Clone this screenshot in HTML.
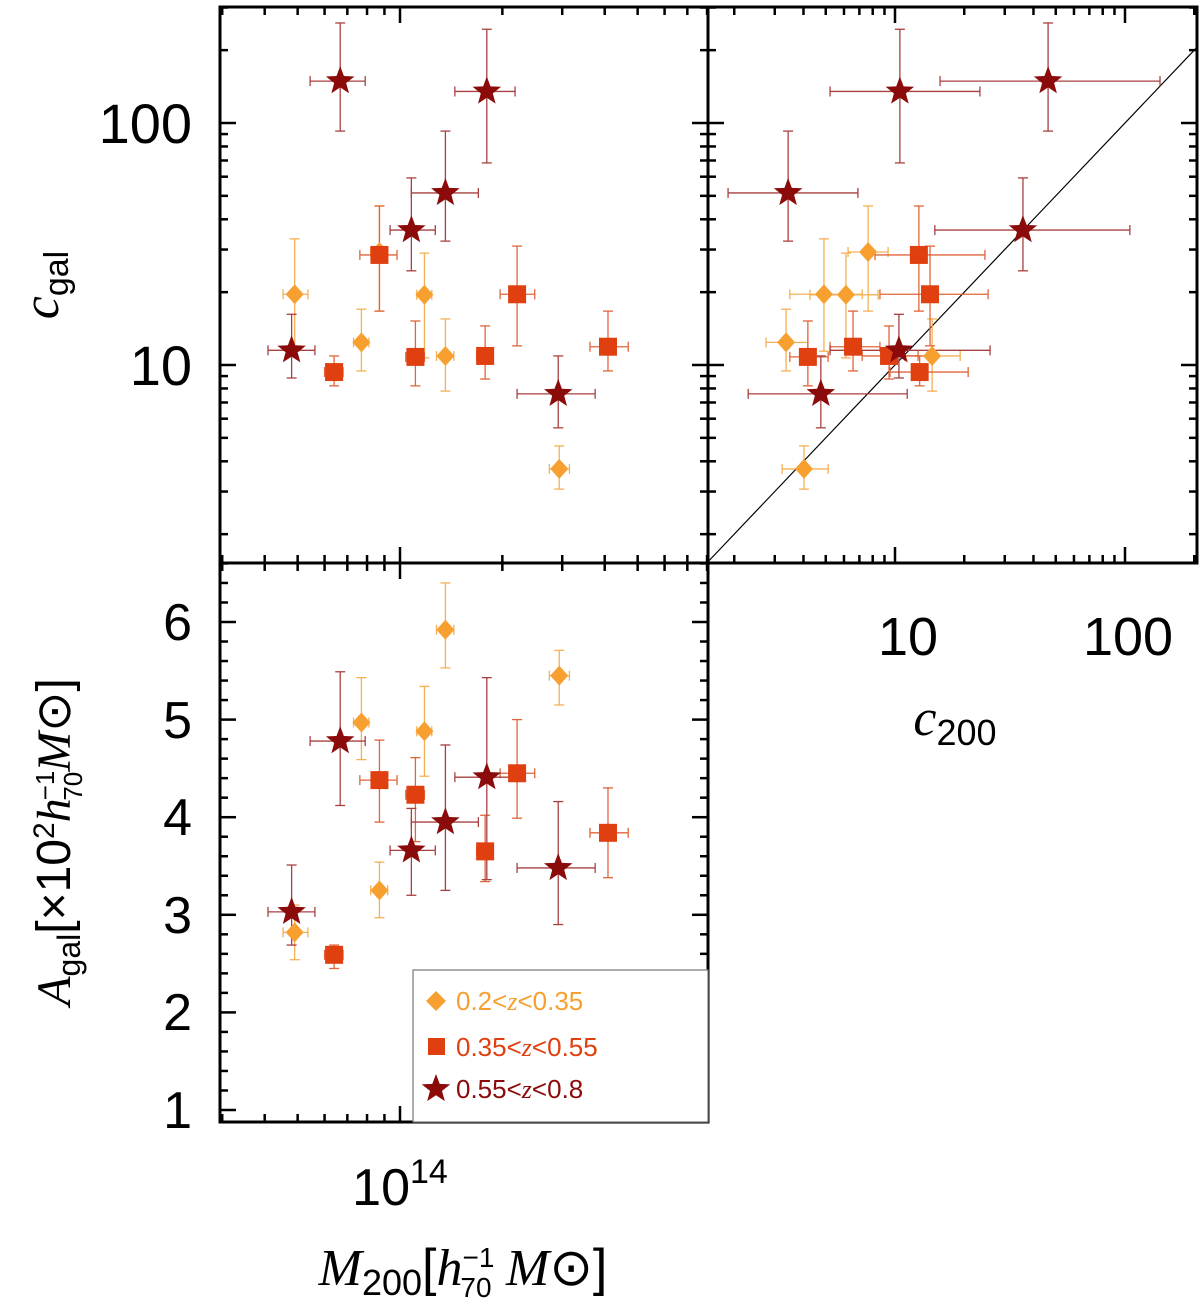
<!DOCTYPE html>
<html><head><meta charset="utf-8"><style>
html,body{margin:0;padding:0;background:#fff}
svg{display:block}
text{font-family:"Liberation Sans",sans-serif}
</style></head><body>
<svg id="c" width="1200" height="1301" xmlns="http://www.w3.org/2000/svg">
<g id="frames"></g>
<g id="marks"></g>
<g fill="#000">
<text x="192" y="143" font-size="56" text-anchor="end">100</text>
<text x="192" y="385" font-size="56" text-anchor="end">10</text>
<text x="908" y="655" font-size="54" text-anchor="middle">10</text>
<text x="1128" y="655" font-size="54" text-anchor="middle">100</text>
<text x="400" y="1205" font-size="52" text-anchor="middle">10<tspan dy="-22" font-size="34">14</tspan></text>
<text x="192" y="640" font-size="52" text-anchor="end">6</text>
<text x="192" y="738" font-size="52" text-anchor="end">5</text>
<text x="192" y="835" font-size="52" text-anchor="end">4</text>
<text x="192" y="933" font-size="52" text-anchor="end">3</text>
<text x="192" y="1030" font-size="52" text-anchor="end">2</text>
<text x="192" y="1128" font-size="52" text-anchor="end">1</text>
<text transform="translate(58,285) rotate(-90)" font-size="52" text-anchor="middle"><tspan font-family="Liberation Serif" font-style="italic">c</tspan><tspan dy="10" font-size="34">gal</tspan></text>
<text transform="translate(70,842) rotate(-90)" font-size="48" text-anchor="middle"><tspan font-family="Liberation Serif" font-style="italic">A</tspan><tspan dy="10" font-size="32">gal</tspan><tspan dy="-10">[×10</tspan><tspan dy="-16" font-size="30">2</tspan><tspan dy="16" font-family="Liberation Serif" font-style="italic">h</tspan><tspan dx="-2" dy="-16" font-size="26">−1</tspan><tspan dx="-30" dy="28" font-size="26">70</tspan><tspan dy="-12" font-family="Liberation Serif" font-style="italic">M</tspan><tspan dy="0">⊙]</tspan></text>
<text x="955" y="735" font-size="52" text-anchor="middle"><tspan font-family="Liberation Serif" font-style="italic">c</tspan><tspan dy="10" font-size="36">200</tspan></text>
<text x="463" y="1285" font-size="52" text-anchor="middle"><tspan font-family="Liberation Serif" font-style="italic">M</tspan><tspan dy="10" font-size="36">200</tspan><tspan dy="-10">[</tspan><tspan font-family="Liberation Serif" font-style="italic">h</tspan><tspan dy="-18" font-size="28">−1</tspan><tspan dx="-34" dy="30" font-size="28">70</tspan><tspan dy="-12"> </tspan><tspan font-family="Liberation Serif" font-style="italic">M</tspan><tspan>⊙]</tspan></text>
</g>
<g>
<rect x="413" y="970" width="295" height="152" fill="#fff" stroke="#777" stroke-width="1.2"/>
<polygon points="436,991 446,1001 436,1011 426,1001" fill="#f7a030"/>
<text x="456" y="1010" font-size="26" fill="#f7a030">0.2&lt;<tspan font-family="Liberation Serif" font-style="italic">z</tspan>&lt;0.35</text>
<rect x="428" y="1038" width="17" height="17" fill="#e04010"/>
<text x="456" y="1056" font-size="26" fill="#e04010">0.35&lt;<tspan font-family="Liberation Serif" font-style="italic">z</tspan>&lt;0.55</text>
<polygon id="lstar" fill="#8b0a0a"/>
<text x="456" y="1098" font-size="26" fill="#8b0a0a">0.55&lt;<tspan font-family="Liberation Serif" font-style="italic">z</tspan>&lt;0.8</text>
</g>
</svg>
<script>
// ---- data ----
// mass in units of 1e13 h70^-1 Msun
const groups = ['D','D','D','D','D','D','S','S','S','S','S','S','T','T','T','T','T','T'];
const mass   = [4.9,7.7,8.7,11.8,13.6,29.4, 6.4,8.7,11.1,17.8,22.1,40.9, 4.8,6.67,10.8,13.6,18.0,29.2];
const massLo = [4.53,7.3,8.2,11.2,12.8,27.5, 6.0,7.62,10.4,16.8,19.7,36.2, 4.09,5.44,9.35,10.8,14.5,22.1];
const massHi = [5.36,8.1,9.2,12.4,14.4,31.5, 6.8,9.8,11.8,18.8,24.9,46.9, 5.62,7.9,12.7,17.0,21.8,37.5];
const cgal   = [19.6,12.4,29.3,19.5,10.9,3.72, 9.35,28.5,10.8,10.9,19.6,11.9, 11.5,149,36.1,51.4,135,7.6];
const cgalLo = [11.4,9.45,16.7,10.7,7.8,3.07, 8.2,16.7,8.2,8.75,12,9.45, 8.84,92.6,24.5,32.5,68.4,5.5];
const cgalHi = [33.2,17,45.4,29,15.5,4.63, 10.9,45.4,15.2,14.5,31,16.7, 16.2,259,59.3,92.6,244,10.9];
const c200   = [4.91,3.36,7.64,6.12,14.5,4.02, 12.8,12.7,4.18,9.42,14.2,6.57, 10.4,46.3,36,3.43,10.5,4.76];
const c200Lo = [3.49,2.75,6.25,4.27,11.0,3.23, 9.51,8.19,3.49,7.2,8.6,5.22, 5.22,15.7,14.9,1.88,5.22,2.3];
const c200Hi = [7.2,4.18,9.33,8.44,19.2,5.12, 20.8,24.6,5.12,12.6,25.4,8.6, 25.9,142,105,6.9,23.4,11.3];
const agal   = [2.82,4.97,3.25,4.88,5.92,5.45, 2.59,4.38,4.23,3.65,4.45,3.84, 3.03,4.78,3.66,3.95,4.41,3.48];
const agalLo = [2.54,4.59,2.97,4.42,5.53,5.15, 2.45,3.95,3.75,3.34,3.99,3.38, 2.69,4.12,3.20,3.25,3.36,2.90];
const agalHi = [3.10,5.43,3.54,5.34,6.40,5.71, 2.69,4.79,4.61,4.02,5.0,4.30, 3.51,5.49,4.09,4.74,5.43,4.16];

// ---- axes ----
const L=220, M=708, R=1197, T=7, MID=563, B=1122;
const xm = v => 400 + 340*Math.log10(v/10);
const yc = v => 365 - 242*(Math.log10(v)-1);
const xc = v => 895 + 230*(Math.log10(v)-1);
const ya = v => 622 - 97.6*(v-6);

const NS='http://www.w3.org/2000/svg';
function mk(tag, attrs, parent){const e=document.createElementNS(NS,tag);for(const k in attrs)e.setAttribute(k,attrs[k]);parent.appendChild(e);return e;}
const F=document.getElementById('frames'), G=document.getElementById('marks');

function line(x1,y1,x2,y2,w,parent,name){const e=mk('line',{x1,y1,x2,y2,stroke:'#000','stroke-width':w},parent);

return e;}

[[L,T,M,MID,'panel-cgal-mass'],[M,T,R,MID,'panel-cgal-c200'],[L,MID,M,B,'panel-agal-mass']].forEach(p=>{
 const r=mk('rect',{x:p[0],y:p[1],width:p[2]-p[0],height:p[3]-p[1],fill:'none',stroke:'#000','stroke-width':3},F);
 
 
});
function logTicks(lo,hi){const out=[];for(let d=-1;d<4;d++){for(let k=1;k<10;k++){const v=k*Math.pow(10,d);if(v>=lo&&v<=hi)out.push([v,k===1]);}}return out;}
logTicks(2.97,80).forEach(([v,maj])=>{const x=xm(v),len=maj?16:8;
 [[T,1],[MID,-1],[MID,1],[B,-1]].forEach(([y,s])=>line(x,y,x,y+s*len,2.5,F,'mass-tick'));});
logTicks(1.5,320).forEach(([v,maj])=>{const y=yc(v);if(y<T||y>MID)return;const len=maj?16:8;
 [[L,1],[M,-1],[M,1],[R,-1]].forEach(([x,s])=>line(x,y,x+s*len,y,2.5,F,'cgal-tick'));});
logTicks(1.5,210).forEach(([v,maj])=>{const x=xc(v);if(x<M||x>R)return;const len=maj?16:8;
 [[T,1],[MID,-1]].forEach(([y,s])=>line(x,y,x,y+s*len,2.5,F,'c200-tick'));});
for(let i=5;i<=66;i++){const v=i/10;const y=ya(v);if(y<MID||y>B)continue;const maj=(i%10===0);if(!maj&&i%2)continue;const len=maj?16:8;
 [[L,1],[M,-1]].forEach(([x,s])=>line(x,y,x+s*len,y,2.5,F,'agal-tick'));}
(function(){const lo=Math.max(1.54,Math.pow(10,1-(MID-365)/242)),hi=Math.min(206,Math.pow(10,1+(365-T)/242));
 line(xc(lo),yc(lo),xc(hi),yc(hi),1.2,F,'one-to-one-line');})();

const style={D:{fill:'#f7a030',err:'#f5b055'},S:{fill:'#e04010',err:'#e0653a'},T:{fill:'#8b0a0a',err:'#a84040'}};
function starPts(cx,cy,r){let p=[];for(let i=0;i<10;i++){const a=-Math.PI/2+i*Math.PI/5;const rr=i%2?r*0.42:r;p.push((cx+rr*Math.cos(a)).toFixed(1)+','+(cy+rr*Math.sin(a)).toFixed(1));}return p.join(' ');}
document.getElementById('lstar').setAttribute('points',starPts(436,1089,15));
function marker(g,x,y,parent,name){let e;
 if(g==='D')e=mk('polygon',{points:`${x},${y-10} ${x+9},${y} ${x},${y+10} ${x-9},${y}`,fill:style.D.fill},parent);
 else if(g==='S')e=mk('rect',{x:x-9,y:y-9,width:18,height:18,fill:style.S.fill},parent);
 else e=mk('polygon',{points:starPts(x,y,15),fill:style.T.fill},parent);
 
 }
function errbar(x1,y1,x2,y2,col,parent,horiz){const c=5;
 const e=mk('line',{x1,y1,x2,y2,stroke:col,'stroke-width':1.3},parent);
 
 
 if(horiz){mk('line',{x1:x1,y1:y1-c,x2:x1,y2:y1+c,stroke:col,'stroke-width':1.3},parent);mk('line',{x1:x2,y1:y2-c,x2:x2,y2:y2+c,stroke:col,'stroke-width':1.3},parent);}
 else{mk('line',{x1:x1-c,y1:y1,x2:x1+c,y2:y1,stroke:col,'stroke-width':1.3},parent);mk('line',{x1:x2-c,y1:y2,x2:x2+c,y2:y2,stroke:col,'stroke-width':1.3},parent);}}
const order=[0,1,2,3,4,5,6,7,8,9,10,11,12,13,14,15,16,17];
const eg=mk('g',{},G), mg=mk('g',{},G);
order.forEach(i=>{const g=groups[i],col=style[g].err;
 errbar(xm(massLo[i]),yc(cgal[i]),xm(massHi[i]),yc(cgal[i]),col,eg,true);
 errbar(xm(mass[i]),yc(cgalHi[i]),xm(mass[i]),yc(cgalLo[i]),col,eg,false);
 errbar(xc(c200Lo[i]),yc(cgal[i]),xc(Math.min(c200Hi[i],206)),yc(cgal[i]),col,eg,true);
 errbar(xc(c200[i]),yc(cgalHi[i]),xc(c200[i]),yc(cgalLo[i]),col,eg,false);
 errbar(xm(massLo[i]),ya(agal[i]),xm(massHi[i]),ya(agal[i]),col,eg,true);
 errbar(xm(mass[i]),ya(agalHi[i]),xm(mass[i]),ya(agalLo[i]),col,eg,false);
});
order.forEach(i=>{const g=groups[i];
 marker(g,xm(mass[i]),yc(cgal[i]),mg,'point-cgal-mass-'+i);
 marker(g,xc(c200[i]),yc(cgal[i]),mg,'point-cgal-c200-'+i);
 marker(g,xm(mass[i]),ya(agal[i]),mg,'point-agal-mass-'+i);
});
</script>
</body></html>
